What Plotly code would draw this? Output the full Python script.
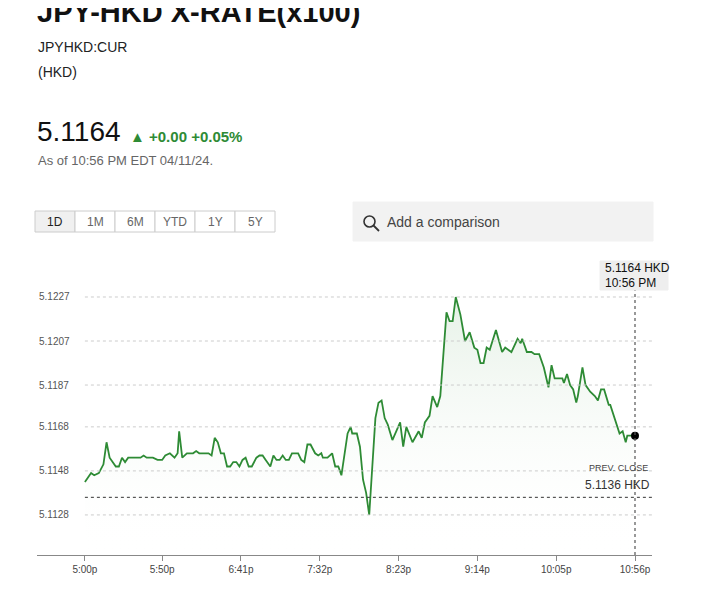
import datetime as dt
import plotly.graph_objects as go

# minutes after 5:00 PM (04/11/24) and the JPY-HKD rate
minutes = [0, 4, 6, 9, 12, 14, 16, 20, 22, 24, 26, 28, 36, 38, 40, 44, 47, 50, 52, 55,
           58, 60, 61, 63, 66, 70, 72, 74, 80, 82, 84, 86, 88, 90, 92, 94, 96, 98, 100, 102,
           104, 106, 108, 111, 113, 115, 117, 118, 120, 122, 124, 126, 128, 130, 132, 134, 138, 140, 142, 144,
           146, 149, 151, 153, 154, 157, 160, 162, 164, 166, 170, 172, 173, 176, 178, 180, 182, 184, 188, 190,
           192, 194, 196, 199, 204, 206, 208, 212, 216, 218, 220, 223, 225, 228, 230, 234, 236, 238, 240, 243,
           246, 249, 252, 254, 256, 258, 260, 262, 266, 270, 272, 276, 280, 282, 283, 286, 289, 291, 294, 297,
           300, 302, 304, 309, 310, 312, 314, 316, 318, 319, 322, 324, 327, 330, 332, 334, 336, 339, 340, 346,
           348, 350, 351, 356]
rates = [5.1143, 5.1147, 5.1146, 5.1147, 5.1151, 5.1161, 5.1154, 5.1150, 5.1150, 5.1154, 5.1152, 5.1154, 5.1154, 5.1155, 5.1154, 5.1154, 5.1153, 5.1153, 5.1155, 5.1156,
         5.1154, 5.1156, 5.1166, 5.1154, 5.1156, 5.1156, 5.1157, 5.1156, 5.1156, 5.1155, 5.1163, 5.1161, 5.1156, 5.1156, 5.1150, 5.1150, 5.1152, 5.1152, 5.1150, 5.1153,
         5.1154, 5.1150, 5.1150, 5.1154, 5.1155, 5.1155, 5.1153, 5.1152, 5.1150, 5.1155, 5.1153, 5.1153, 5.1155, 5.1153, 5.1153, 5.1156, 5.1156, 5.1153, 5.1152, 5.1160,
         5.1160, 5.1156, 5.1155, 5.1156, 5.1154, 5.1154, 5.1156, 5.1150, 5.1150, 5.1146, 5.1165, 5.1168, 5.1165, 5.1165, 5.1159, 5.1144, 5.1138, 5.1128, 5.1172, 5.1179,
         5.1180, 5.1172, 5.1169, 5.1162, 5.1170, 5.1159, 5.1168, 5.1161, 5.1166, 5.1163, 5.1170, 5.1173, 5.1182, 5.1177, 5.1182, 5.1220, 5.1216, 5.1216, 5.1227, 5.1219,
         5.1207, 5.1211, 5.1204, 5.1203, 5.1197, 5.1197, 5.1204, 5.1203, 5.1212, 5.1202, 5.1204, 5.1202, 5.1208, 5.1206, 5.1208, 5.1202, 5.1202, 5.1201, 5.1201, 5.1195,
         5.1186, 5.1196, 5.1190, 5.1190, 5.1188, 5.1192, 5.1187, 5.1185, 5.1179, 5.1182, 5.1195, 5.1187, 5.1184, 5.1182, 5.1180, 5.1185, 5.1185, 5.1178, 5.1178, 5.1165,
         5.1166, 5.1161, 5.1164, 5.1164]

prev_close = 5.1136
y_ticks = [5.1227, 5.1207, 5.1187, 5.1168, 5.1148, 5.1128]
x_tick_labels = ["5:00p", "5:50p", "6:41p", "7:32p", "8:23p", "9:14p", "10:05p", "10:56p"]
x_tick_minutes = [0, 50, 101, 152, 203, 254, 305, 356]
ranges = ["1D", "1M", "6M", "YTD", "1Y", "5Y"]

start = dt.datetime(2024, 4, 11, 17, 0)
times = [start + dt.timedelta(minutes=m) for m in minutes]
tick_times = [start + dt.timedelta(minutes=m) for m in x_tick_minutes]
x0 = start - dt.timedelta(minutes=31)
x1 = start + dt.timedelta(minutes=367)
ybot, ytop = 5.11098, 5.12438

GREEN = "#2e8b35"
FONT = "Liberation Sans, Arial, sans-serif"
OFF = 8  # page body margin

fig = go.Figure()
# invisible baseline so the gradient fill stays inside the plot
fig.add_trace(go.Scatter(x=times, y=[ybot] * len(times), mode="lines",
                         line=dict(width=0), hoverinfo="skip", showlegend=False))
fig.add_trace(go.Scatter(
    x=times, y=rates, mode="lines", fill="tonexty",
    fillgradient=dict(type="vertical",
                      colorscale=[[0, "rgba(255,255,255,0)"], [1, "rgba(46,139,53,0.12)"]]),
    line=dict(color=GREEN, width=1.8), showlegend=False))
fig.add_trace(go.Scatter(x=[times[-1]], y=[rates[-1]], mode="markers",
                         marker=dict(color="black", size=8), showlegend=False))

shapes = []
for v in y_ticks:
    shapes.append(dict(type="line", xref="x", yref="y", x0=start, x1=x1, y0=v, y1=v,
                       line=dict(color="#cccccc", width=1, dash="dot")))
shapes.append(dict(type="line", xref="x", yref="y", x0=start, x1=x1, y0=prev_close, y1=prev_close,
                   line=dict(color="#333333", width=1, dash="dot")))
shapes.append(dict(type="line", xref="x", yref="paper", x0=times[-1], x1=times[-1], y0=0, y1=0.90,
                   line=dict(color="#555555", width=1.2, dash="dot")))

anns = []
for v in y_ticks:
    anns.append(dict(xref="paper", yref="y", x=0, y=v, text=f"{v:.4f}", showarrow=False,
                     xanchor="left", font=dict(size=10, color="#555555")))


def fx(x):
    return (x - 37) / 615


def fy(y):
    return (555 - y) / 295


def px(x, y, text, size, color="#222222", anchor="left", bold=False):
    anns.append(dict(xref="paper", yref="paper", x=fx(x), y=fy(y),
                     text=f"<b>{text}</b>" if bold else text, showarrow=False,
                     xanchor=anchor, yanchor="middle", font=dict(size=size, color=color)))


def box(x0_, y0_, x1_, y1_, fill="white", line="#cccccc"):
    shapes.append(dict(type="rect", xref="paper", yref="paper",
                       x0=fx(x0_), x1=fx(x1_), y0=fy(y1_), y1=fy(y0_),
                       fillcolor=fill, line=dict(color=line, width=1), layer="above"))


px(35, 12, "JPY-HKD X-RATE(x100)", 29, "#111111", bold=True)
px(36, 47, "JPYHKD:CUR", 14)
px(36, 72, "(HKD)", 14)
px(35, 131, "5.1164", 28, "#111111")
px(128, 137, "▲ +0.00 +0.05%", 15, GREEN, bold=True)
px(36, 160, "As of 10:56 PM EDT 04/11/24.", 13, "#666666")

for i, r in enumerate(ranges):
    bx = 35 + i * 40
    box(bx, 211, bx + 40, 232, fill="#f0f0f0" if i == 0 else "white")
    px(bx + 20, 222, r, 12, "#222222" if i == 0 else "#666666", anchor="center")

box(353, 202, 653, 241, fill="#f2f2f2", line="#f2f2f2")
shapes.append(dict(type="circle", xref="paper", yref="paper",
                   x0=fx(364), x1=fx(375), y0=fy(227), y1=fy(216),
                   line=dict(color="#333333", width=1.6)))
shapes.append(dict(type="line", xref="paper", yref="paper",
                   x0=fx(373.5), x1=fx(379), y0=fy(225.5), y1=fy(231),
                   line=dict(color="#333333", width=1.8)))
px(385, 222, "Add a comparison", 14, "#444444")

box(600, 261, 668, 290, fill="#eeeeee", line="#eeeeee")
px(603, 268, "5.1164 HKD", 12, "#111111")
px(603, 283, "10:56 PM", 12, "#111111")
px(650, 468, "PREV. CLOSE", 9, "#444444", anchor="right")
px(652, 485, "5.1136 HKD", 12, "#333333", anchor="right")

fig.update_layout(
    width=703 - OFF, height=593 - OFF,
    margin=dict(l=37 - OFF, r=51, t=260 - OFF, b=38),
    paper_bgcolor="white", plot_bgcolor="white",
    font=dict(family=FONT), shapes=shapes, annotations=anns, showlegend=False,
    hovermode=False,
    xaxis=dict(range=[x0, x1], tickvals=tick_times, ticktext=x_tick_labels, showgrid=False,
               showline=True, linecolor="#888888", ticks="outside", ticklen=5, tickcolor="#888888",
               tickfont=dict(size=10, color="#444444"), zeroline=False),
    yaxis=dict(range=[ybot, ytop], showgrid=False, showticklabels=False, zeroline=False),
)

fig.write_html("out.html")
